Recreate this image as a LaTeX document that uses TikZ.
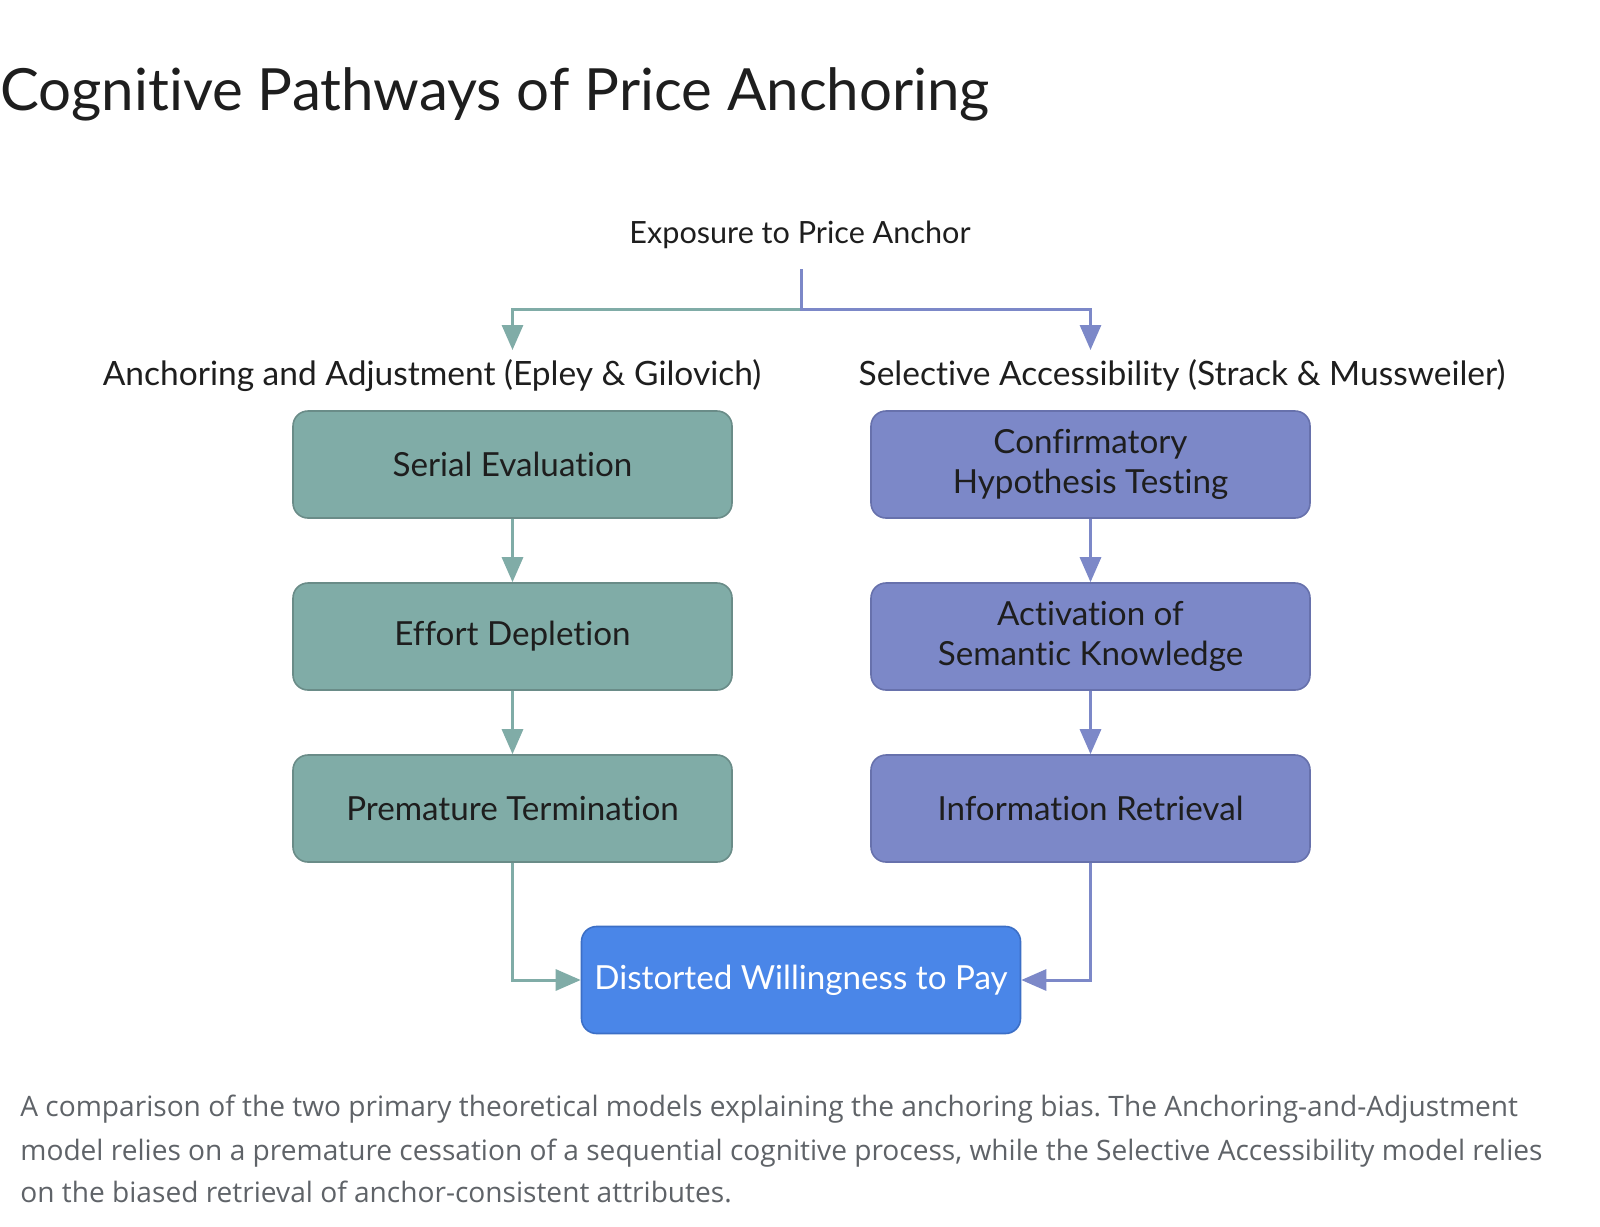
\documentclass[tikz,border=0pt]{standalone}
\usepackage{fontspec}
\setmainfont{Lato}[Ligatures={NoCommon}]
\newfontfamily\capfont{Open Sans}
\usetikzlibrary{arrows.meta}
\frenchspacing
\definecolor{tealfill}{HTML}{80ACA7}
\definecolor{tealedge}{HTML}{6A8C88}
\definecolor{purpfill}{HTML}{7C88C8}
\definecolor{purpedge}{HTML}{6771AC}
\definecolor{bluefill}{HTML}{4A86E8}
\definecolor{blueedge}{HTML}{3C6FC6}
\definecolor{txt}{HTML}{1E1E1E}
\definecolor{captxt}{HTML}{5F6368}
\tikzset{
  flowbox/.style={rounded corners=7.5pt, line width=0.8pt, minimum width=219.5pt, minimum height=53.5pt, align=center, text=txt, font=\fontsize{16.6}{20}\selectfont, inner sep=0pt},
  tealbox/.style={flowbox, fill=tealfill, draw=tealedge},
  purpbox/.style={flowbox, fill=purpfill, draw=purpedge},
  bluebox/.style={flowbox, fill=bluefill, draw=blueedge, text=white},
  heading/.style={anchor=base, text=txt, font=\fontsize{16.75}{19}\selectfont, inner sep=0pt},
  tealline/.style={draw=tealfill, line width=1.5pt, -{Triangle[length=12.5pt,width=10.5pt]}},
  purpline/.style={draw=purpfill, line width=1.5pt, -{Triangle[length=12.5pt,width=10.5pt]}},
  caption/.style={anchor=base west, text=captxt, font=\capfont\fontsize{14.05}{16}\selectfont, inner sep=0pt}
}
\begin{document}
\begin{tikzpicture}[x=0.5pt, y=-0.5pt]
\useasboundingbox[fill=white] (0,0) rectangle (1600,1226);
% title
\node[anchor=base west, inner sep=0pt, text=txt, font=\fontsize{29.1}{34}\selectfont] (title) at (0,110) {Cognitive Pathways of Price Anchoring};
% top
\node[heading, font=\fontsize{15.3}{18}\selectfont] (ex) at (800,243) {Exposure to Price Anchor};
\coordinate (stemtop) at (801,269);
\coordinate (junc) at (801,309);
\coordinate (ltip) at (512.5,350);
\coordinate (rtip) at (1090.5,350);
\node[heading] (lh) at (432,385) {Anchoring and Adjustment (Epley \& Gilovich)};
\node[heading] (rh) at (1182,385) {Selective Accessibility (Strack \& Mussweiler)};
% left column
\node[tealbox] (se) at (512.5,464.5) {Serial Evaluation};
\node[tealbox] (ed) at (512.5,636.5) {Effort Depletion};
\node[tealbox] (pt) at (512.5,808.5) {Premature Termination};
% right column
\node[purpbox] (ch) at (1090.5,464.5) {Confirmatory\\Hypothesis Testing};
\node[purpbox] (as) at (1090.5,636.5) {Activation of\\Semantic Knowledge};
\node[purpbox] (ir) at (1090.5,808.5) {Information Retrieval};
% final
\node[bluebox] (dw) at (801,980) {Distorted Willingness to Pay};
% connectors
\draw[tealline] (junc) -| (ltip);
\draw[purpline] (stemtop) -- (junc) -| (rtip);
\draw[tealline] (se) -- (ed);
\draw[tealline] (ed) -- (pt);
\draw[purpline] (ch) -- (as);
\draw[purpline] (as) -- (ir);
\draw[tealline] (pt.south) |- (dw.west);
\draw[purpline] (ir.south) |- (dw.east);
% caption
\node[caption] (c1) at (20,1116) {A comparison of the two primary theoretical models explaining the anchoring bias. The Anchoring-and-Adjustment};
\node[caption] (c2) at (20,1160) {model relies on a premature cessation of a sequential cognitive process, while the Selective Accessibility model relies};
\node[caption] (c3) at (20,1202) {on the biased retrieval of anchor-consistent attributes.};
\end{tikzpicture}
\end{document}
